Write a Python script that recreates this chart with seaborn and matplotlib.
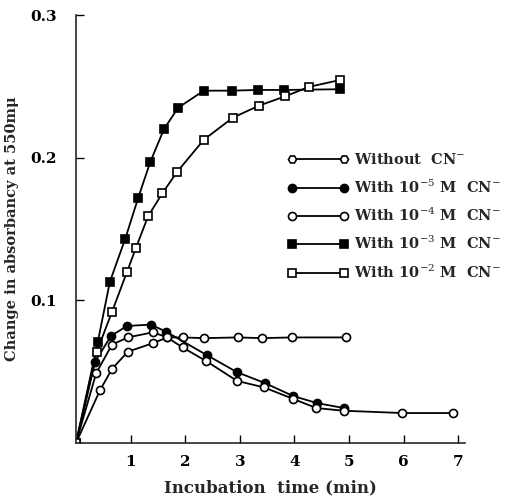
import matplotlib
matplotlib.use('Agg')
import matplotlib.pyplot as plt
import seaborn as sns
import pandas as pd
from matplotlib.lines import Line2D

# values (time in min, absorbancy change)
t_without = [0, 0.44, 0.66, 0.95, 1.41, 1.67, 1.96, 2.34, 2.97, 3.40, 3.96, 4.94]
a_without = [0, 0.037, 0.052, 0.064, 0.070, 0.074, 0.074, 0.0735, 0.074, 0.0735, 0.074, 0.074]

t_cn5 = [0, 0.35, 0.64, 0.93, 1.37, 1.65, 2.40, 2.95, 3.46, 3.97, 4.41, 4.90]
a_cn5 = [0, 0.057, 0.075, 0.082, 0.083, 0.078, 0.0615, 0.0496, 0.042, 0.033, 0.028, 0.0245]

t_cn4 = [0, 0.37, 0.66, 0.95, 1.41, 1.67, 1.95, 2.38, 2.95, 3.44, 3.97, 4.40, 4.90, 5.97, 6.90]
a_cn4 = [0, 0.049, 0.069, 0.074, 0.0776, 0.074, 0.067, 0.0575, 0.0435, 0.039, 0.031, 0.0245, 0.0226, 0.021, 0.021]

t_cn3 = [0, 0.40, 0.62, 0.90, 1.14, 1.36, 1.61, 1.87, 2.34, 2.86, 3.33, 3.81, 4.84]
a_cn3 = [0, 0.071, 0.113, 0.143, 0.172, 0.197, 0.220, 0.235, 0.247, 0.247, 0.2475, 0.2475, 0.248]

t_cn2 = [0, 0.38, 0.66, 0.93, 1.10, 1.32, 1.58, 1.85, 2.34, 2.87, 3.35, 3.83, 4.27, 4.84]
a_cn2 = [0, 0.064, 0.092, 0.1196, 0.137, 0.159, 0.175, 0.190, 0.2126, 0.228, 0.2365, 0.243, 0.2497, 0.2545]

labels = ['Without  CN$^{-}$', 'With 10$^{-5}$ M  CN$^{-}$', 'With 10$^{-4}$ M  CN$^{-}$',
          'With 10$^{-3}$ M  CN$^{-}$', 'With 10$^{-2}$ M  CN$^{-}$']
x_ticks = [1, 2, 3, 4, 5, 6, 7]
y_ticks = [0.1, 0.2, 0.3]
y_ticklabels = ['0.1', '0.2', '0.3']

sns.set_style('ticks')
plt.rcParams['font.family'] = ['DejaVu Serif']
plt.rcParams['mathtext.fontset'] = 'dejavuserif'

fig = plt.figure(figsize=(5.15, 4.97), dpi=100)
ax = fig.add_axes([0.1476, 0.1087, 0.755, 0.861])

series = [
    (t_without, a_without, 'o', 'white'),
    (t_cn5, a_cn5, 'o', 'black'),
    (t_cn4, a_cn4, 'o', 'white'),
    (t_cn3, a_cn3, 's', 'black'),
    (t_cn2, a_cn2, 's', 'white'),
]

for tt, aa, mk, fc in series:
    df = pd.DataFrame({'t': tt, 'a': aa})
    sns.lineplot(data=df, x='t', y='a', ax=ax, color='black', linewidth=1.3,
                 marker=mk, markersize=5.8, markerfacecolor=fc,
                 markeredgecolor='black', markeredgewidth=1.2, sort=False)

ax.set_xlim(0, 7.12)
ax.set_ylim(0, 0.3)
ax.set_xticks(x_ticks)
ax.set_yticks(y_ticks)
ax.set_yticklabels(y_ticklabels)
ax.tick_params(direction='in', length=6, width=1, labelsize=11, colors='black')
ax.tick_params(axis='y', pad=14)
ax.tick_params(axis='x', pad=9)
for lab in ax.get_xticklabels() + ax.get_yticklabels():
    lab.set_fontweight('bold')
sns.despine(ax=ax)
ax.spines['left'].set_linewidth(1.2)
ax.spines['bottom'].set_linewidth(1.2)

ax.set_xlabel('Incubation  time (min)', fontsize=12, fontweight='bold', labelpad=7)
ax.set_ylabel('Change in absorbancy at 550m\u03bc', fontsize=10.5, fontweight='bold', labelpad=8)

# legend
markers = ['H', 'o', 'o', 's', 's']
faces = ['white', 'black', 'white', 'black', 'white']
handles = [Line2D([0], [0], color='black', linewidth=1.3, marker=m, markersize=5.8,
                  markerfacecolor=f, markeredgecolor='black', markeredgewidth=1.2)
           for m, f in zip(markers, faces)]
leg = ax.legend(handles, labels, loc='upper left', bbox_to_anchor=(0.528, 0.693),
                frameon=False, numpoints=2, handlelength=4.2, handletextpad=0.4,
                labelspacing=0.76, borderaxespad=0,
                prop={'size': 10.5, 'weight': 'bold', 'family': 'DejaVu Serif'})

fig.savefig('out.png', dpi=100)
